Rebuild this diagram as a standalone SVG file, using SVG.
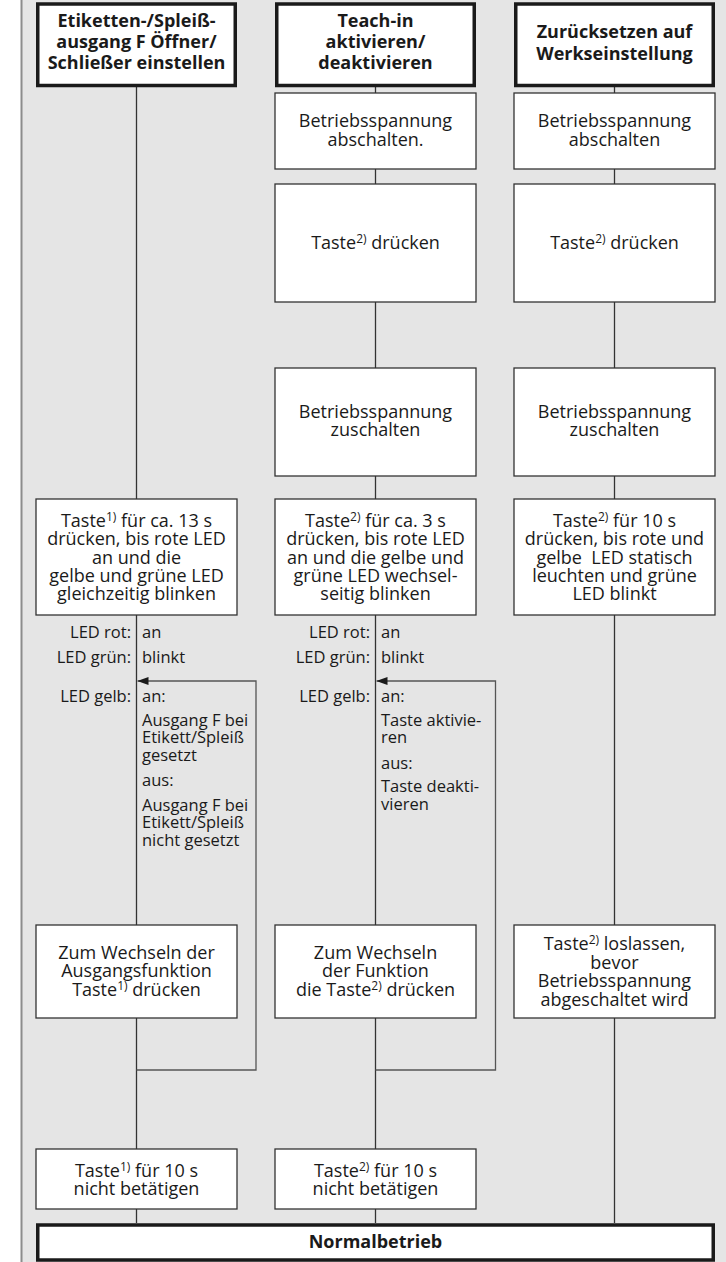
<svg xmlns="http://www.w3.org/2000/svg" width="726" height="1262" viewBox="0 0 726 1262">
<style>
.bg{fill:#e5e5e5}
.box{fill:#fff;stroke:#333;stroke-width:1.3}
.hbox{fill:#fff;stroke:#1a1a1a;stroke-width:3.5}
.t{font-family:"Open Sans","Noto Sans",sans-serif;font-size:18px;fill:#1a1a1a;text-anchor:middle}
.h{font-family:"Open Sans","Noto Sans",sans-serif;font-size:18px;font-weight:bold;fill:#1a1a1a;text-anchor:middle}
.l{font-family:"Open Sans","Noto Sans",sans-serif;font-size:16.5px;fill:#1a1a1a}
.r{text-anchor:end}
.sup{font-size:12px}
.c{fill:none;stroke:#333;stroke-width:1.3}
.lp{fill:none;stroke:#555;stroke-width:1.3}
</style>
<defs>
<marker id="ah" markerWidth="11" markerHeight="8" refX="11" refY="4" orient="auto" markerUnits="userSpaceOnUse">
<path d="M0,0 L11,4 L0,8 Z" fill="#1a1a1a"/>
</marker>
</defs>
<rect class="bg" x="21" y="0" width="705" height="1262"/>
<line x1="21.5" y1="0" x2="21.5" y2="1262" stroke="#8c8c8c" stroke-width="2"/>

<g id="connectors">
<line class="c" x1="136.5" y1="87" x2="136.5" y2="499"/>
<line class="c" x1="375.5" y1="87" x2="375.5" y2="93"/>
<line class="c" x1="614.5" y1="87" x2="614.5" y2="93"/>
<line class="c" x1="375.5" y1="169" x2="375.5" y2="184"/>
<line class="c" x1="614.5" y1="169" x2="614.5" y2="184"/>
<line class="c" x1="375.5" y1="302" x2="375.5" y2="368"/>
<line class="c" x1="614.5" y1="302" x2="614.5" y2="368"/>
<line class="c" x1="375.5" y1="476" x2="375.5" y2="499"/>
<line class="c" x1="614.5" y1="476" x2="614.5" y2="499"/>
<line class="c" x1="136.5" y1="615" x2="136.5" y2="925"/>
<line class="c" x1="375.5" y1="615" x2="375.5" y2="925"/>
<line class="c" x1="614.5" y1="615" x2="614.5" y2="925"/>
<line class="c" x1="136.5" y1="1018" x2="136.5" y2="1149"/>
<line class="c" x1="375.5" y1="1018" x2="375.5" y2="1149"/>
<line class="c" x1="614.5" y1="1018" x2="614.5" y2="1223"/>
<line class="c" x1="136.5" y1="1209" x2="136.5" y2="1223"/>
<line class="c" x1="375.5" y1="1209" x2="375.5" y2="1223"/>
<path class="lp" d="M136.5,1070 H256 V681 H137.5" marker-end="url(#ah)"/>
<path class="lp" d="M375.5,1070 H495.5 V681 H376.5" marker-end="url(#ah)"/>
</g>

<g id="h1">
<rect class="hbox" x="37.75" y="4" width="197.5" height="81.5"/>
<text class="h" x="136.5" y="27">Etiketten-/Spleiß-</text>
<text class="h" x="136.5" y="48">ausgang F Öffner/</text>
<text class="h" x="136.5" y="69">Schließer einstellen</text>
</g>
<g id="h2">
<rect class="hbox" x="276.75" y="4" width="197.5" height="81.5"/>
<text class="h" x="375.5" y="27">Teach-in</text>
<text class="h" x="375.5" y="48">aktivieren/</text>
<text class="h" x="375.5" y="69">deaktivieren</text>
</g>
<g id="h3">
<rect class="hbox" x="515.75" y="4" width="197.5" height="81.5"/>
<text class="h" x="614.5" y="38">Zurücksetzen auf</text>
<text class="h" x="614.5" y="59.5">Werkseinstellung</text>
</g>

<g id="c2a">
<rect class="box" x="275" y="93" width="201" height="76"/>
<text class="t" x="375.5" y="127">Betriebsspannung</text>
<text class="t" x="375.5" y="145.5">abschalten.</text>
</g>
<g id="c3a">
<rect class="box" x="514" y="93" width="201" height="76"/>
<text class="t" x="614.5" y="127">Betriebsspannung</text>
<text class="t" x="614.5" y="145.5">abschalten</text>
</g>
<g id="c2b">
<rect class="box" x="275" y="184" width="201" height="118"/>
<text class="t" x="375.5" y="248.5">Taste<tspan class="sup" dy="-6">2)</tspan><tspan dy="6"> drücken</tspan></text>
</g>
<g id="c3b">
<rect class="box" x="514" y="184" width="201" height="118"/>
<text class="t" x="614.5" y="248.5">Taste<tspan class="sup" dy="-6">2)</tspan><tspan dy="6"> drücken</tspan></text>
</g>
<g id="c2c">
<rect class="box" x="275" y="368" width="201" height="108"/>
<text class="t" x="375.5" y="418">Betriebsspannung</text>
<text class="t" x="375.5" y="436.3">zuschalten</text>
</g>
<g id="c3c">
<rect class="box" x="514" y="368" width="201" height="108"/>
<text class="t" x="614.5" y="418">Betriebsspannung</text>
<text class="t" x="614.5" y="436.3">zuschalten</text>
</g>

<g id="c1d">
<rect class="box" x="36" y="499" width="201" height="116"/>
<text class="t" x="136.5" y="527">Taste<tspan class="sup" dy="-6">1)</tspan><tspan dy="6"> für ca. 13 s</tspan></text>
<text class="t" x="136.5" y="545.3">drücken, bis rote LED</text>
<text class="t" x="136.5" y="563.6">an und die</text>
<text class="t" x="136.5" y="582">gelbe und grüne LED</text>
<text class="t" x="136.5" y="600.3">gleichzeitig blinken</text>
</g>
<g id="c2d">
<rect class="box" x="275" y="499" width="201" height="116"/>
<text class="t" x="375.5" y="527">Taste<tspan class="sup" dy="-6">2)</tspan><tspan dy="6"> für ca. 3 s</tspan></text>
<text class="t" x="375.5" y="545.3">drücken, bis rote LED</text>
<text class="t" x="375.5" y="563.6">an und die gelbe und</text>
<text class="t" x="375.5" y="582">grüne LED wechsel-</text>
<text class="t" x="375.5" y="600.3">seitig blinken</text>
</g>
<g id="c3d">
<rect class="box" x="514" y="499" width="201" height="116"/>
<text class="t" x="614.5" y="527">Taste<tspan class="sup" dy="-6">2)</tspan><tspan dy="6"> für 10 s</tspan></text>
<text class="t" x="614.5" y="545.3">drücken, bis rote und</text>
<text class="t" x="614.5" y="563.6" xml:space="preserve">gelbe  LED statisch</text>
<text class="t" x="614.5" y="582">leuchten und grüne</text>
<text class="t" x="614.5" y="600.3">LED blinkt</text>
</g>

<g id="led1">
<text class="l r" x="131" y="638">LED rot:</text>
<text class="l" x="142" y="638">an</text>
<text class="l r" x="131" y="663">LED grün:</text>
<text class="l" x="142" y="663">blinkt</text>
<text class="l r" x="131" y="702">LED gelb:</text>
<text class="l" x="142" y="702">an:</text>
<text class="l" x="142" y="725.5">Ausgang F bei</text>
<text class="l" x="142" y="743">Etikett/Spleiß</text>
<text class="l" x="142" y="760.5">gesetzt</text>
<text class="l" x="142" y="786">aus:</text>
<text class="l" x="142" y="810.5">Ausgang F bei</text>
<text class="l" x="142" y="828">Etikett/Spleiß</text>
<text class="l" x="142" y="845.5">nicht gesetzt</text>
</g>
<g id="led2">
<text class="l r" x="370" y="638">LED rot:</text>
<text class="l" x="381" y="638">an</text>
<text class="l r" x="370" y="663">LED grün:</text>
<text class="l" x="381" y="663">blinkt</text>
<text class="l r" x="370" y="702">LED gelb:</text>
<text class="l" x="381" y="702">an:</text>
<text class="l" x="381" y="725.5">Taste aktivie-</text>
<text class="l" x="381" y="743">ren</text>
<text class="l" x="381" y="768.5">aus:</text>
<text class="l" x="381" y="792">Taste deakti-</text>
<text class="l" x="381" y="809.5">vieren</text>
</g>

<g id="c1e">
<rect class="box" x="36" y="925" width="201" height="93"/>
<text class="t" x="136.5" y="958.5">Zum Wechseln der</text>
<text class="t" x="136.5" y="977">Ausgangsfunktion</text>
<text class="t" x="136.5" y="995.5">Taste<tspan class="sup" dy="-6">1)</tspan><tspan dy="6"> drücken</tspan></text>
</g>
<g id="c2e">
<rect class="box" x="275" y="925" width="201" height="93"/>
<text class="t" x="375.5" y="958.5">Zum Wechseln</text>
<text class="t" x="375.5" y="977">der Funktion</text>
<text class="t" x="375.5" y="995.5">die Taste<tspan class="sup" dy="-6">2)</tspan><tspan dy="6"> drücken</tspan></text>
</g>
<g id="c3e">
<rect class="box" x="514" y="925" width="201" height="93"/>
<text class="t" x="614.5" y="950">Taste<tspan class="sup" dy="-6">2)</tspan><tspan dy="6"> loslassen,</tspan></text>
<text class="t" x="614.5" y="968.5">bevor</text>
<text class="t" x="614.5" y="987">Betriebsspannung</text>
<text class="t" x="614.5" y="1005.5">abgeschaltet wird</text>
</g>

<g id="c1f">
<rect class="box" x="36" y="1149" width="201" height="60"/>
<text class="t" x="136.5" y="1176.5">Taste<tspan class="sup" dy="-6">1)</tspan><tspan dy="6"> für 10 s</tspan></text>
<text class="t" x="136.5" y="1195">nicht betätigen</text>
</g>
<g id="c2f">
<rect class="box" x="275" y="1149" width="201" height="60"/>
<text class="t" x="375.5" y="1176.5">Taste<tspan class="sup" dy="-6">2)</tspan><tspan dy="6"> für 10 s</tspan></text>
<text class="t" x="375.5" y="1195">nicht betätigen</text>
</g>

<g id="normal">
<rect class="hbox" x="37.75" y="1225" width="675.5" height="35"/>
<text class="h" x="375.5" y="1247.5">Normalbetrieb</text>
</g>
</svg>
